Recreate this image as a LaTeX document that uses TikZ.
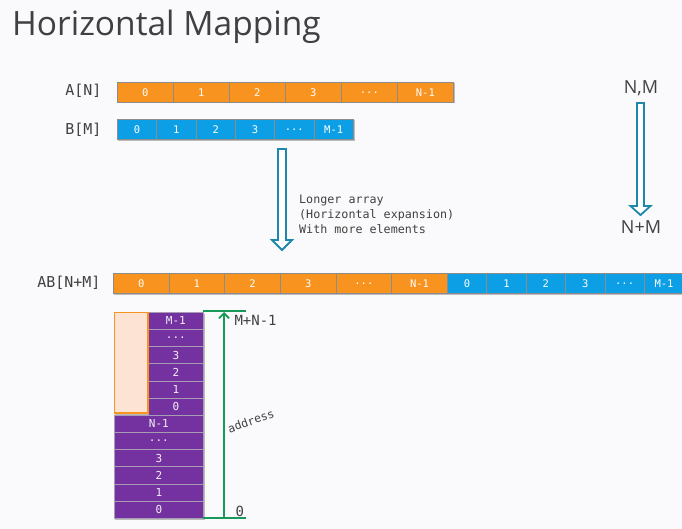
\documentclass[tikz,border=0pt]{standalone}
\usepackage{fontspec}
\setmainfont{Open Sans}
\setmonofont{DejaVu Sans Mono}
\usetikzlibrary{arrows.meta,shadows}

\definecolor{bg}{HTML}{FAFAFC}
\definecolor{orng}{HTML}{F7931E}
\definecolor{blu}{HTML}{0D9FE6}
\definecolor{purp}{HTML}{7332A0}
\definecolor{tealline}{HTML}{1E87AC}
\definecolor{grn}{HTML}{17995A}
\definecolor{peach}{HTML}{FDE3D4}
\definecolor{txt}{HTML}{404040}
\definecolor{cellline}{HTML}{8C8C8C}
\definecolor{purpline}{HTML}{A89CB4}

\newcommand\dotsx{.\kern0pt.\kern0pt.}

\tikzset{
  arrcell/.style={draw=cellline, line width=0.7pt, minimum height=20pt,
    inner sep=0pt, anchor=north west, text=white,
    font=\fontsize{10.5}{10.5}\ttfamily},
  ocell/.style={arrcell, fill=orng},
  bcell/.style={arrcell, fill=blu},
  pcell/.style={draw=purpline, line width=0.7pt, fill=purp, inner sep=0pt,
    minimum height=17.17pt, anchor=north west, text=white!92!purp,
    font=\fontsize{11}{11}\ttfamily},
  rowlabel/.style={text=txt, font=\fontsize{15}{15}\ttfamily, anchor=east},
  sidelabel/.style={text=txt, font=\fontsize{18}{18}\selectfont},
  blockarrow/.style={draw=tealline, line width=1.8pt, fill=white, line join=miter},
  axis/.style={draw=grn, line width=1.8pt},
  axislabel/.style={text=txt, font=\fontsize{14}{14}\ttfamily, anchor=west},
}

\begin{document}
\begin{tikzpicture}[x=1pt,y=-1pt]
  \fill[bg] (0,0) rectangle (682,529);
  \useasboundingbox (0,0) rectangle (682,529);

  % title
  \node[anchor=base west, inner sep=0pt, text=txt,
        font=\fontsize{33.5}{33.5}\selectfont] (title) at (12,36) {Horizontal Mapping};

  % A[N]
  \node[rowlabel] (alab) at (105,91) {A[N]};
  \fill[black, opacity=0.25] (118,83.5) rectangle (454.5,103.5);
  \foreach \t [count=\i from 0] in {0,1,2,3,\dotsx,N-1}
    \node[ocell, minimum width=56pt] (a\i) at ({117+56*\i},82) {\t};

  % B[M]
  \node[rowlabel] (blab) at (105,130) {B[M]};
  \fill[black, opacity=0.25] (118,120.5) rectangle (354.5,141.5);
  \foreach \t [count=\i from 0] in {0,1,2,3,\dotsx,M-1}
    \node[bcell, minimum width=39.33pt] (b\i) at ({117+39.33*\i},119) {\t};

  % expansion arrow and its note
  \draw[blockarrow] (278,149) -- (286,149) -- (286,240) -- (292,240)
    -- (282,250) -- (272,240) -- (278,240) -- cycle;
  \node[anchor=west, align=left, inner sep=0pt, text=txt,
        font=\fontsize{11.7}{15}\ttfamily] (note) at (299,214)
    {Longer array\\(Horizontal expansion)\\With more elements};

  % sizes
  \node[sidelabel] (nm) at (641,88) {N,M};
  \node[sidelabel] (npm) at (641,227) {N+M};
  \draw[blockarrow] (637,103) -- (644,103) -- (644,206) -- (650.5,206)
    -- (640.5,215) -- (630.5,206) -- (637,206) -- cycle;

  % AB[N+M]
  \node[rowlabel] (ablab) at (104,283) {AB[N+M]};
  \fill[black, opacity=0.25] (114,274.5) rectangle (690,294.5);
  \foreach \t [count=\i from 0] in {0,1,2,3,\dotsx,N-1}
    \node[ocell, minimum width=55.67pt] (ab\i) at ({113+55.67*\i},273) {\t};
  \foreach \t [count=\i from 0] in {0,1,2,3,\dotsx,M-1}
    \node[bcell, minimum width=39.4pt] (abm\i) at ({447+39.4*\i},273) {\t};

  % memory column: N elements of A at the bottom, M elements of B above
  \fill[black, opacity=0.25] (115,313.5) rectangle (204.5,519.5);
  \foreach \t [count=\i from 0] in {0,1,2,3,\dotsx,N-1}
    \node[pcell, minimum width=89pt] (ma\i) at (114,{500.83-17.17*\i}) {\t};
  \foreach \t [count=\i from 0] in {0,1,2,3,\dotsx,M-1}
    \node[pcell, minimum width=55pt] (mb\i) at (148,{397.8-17.17*\i}) {\t};
  \draw[orng, line width=1.8pt, fill=peach] (114.5,312.5) rectangle (148,413);

  % address axis
  \coordinate (atop) at (224,311);
  \coordinate (abot) at (224,518);
  \coordinate (tl) at (203,311);
  \coordinate (tr) at (246,311);
  \coordinate (bl) at (203,518);
  \coordinate (br) at (246,518);
  \draw[axis] (tl) -- (tr);
  \draw[axis] (bl) -- (br);
  \draw[axis, -{Straight Barb[length=5pt,width=10pt,line width=1.8pt]}]
    (abot) -- ([yshift=-1pt]atop);
  \node[axislabel] (hi) at (231,320) {M+N-1};
  \node[axislabel] (lo) at (232,511) {0};
  \node[text=txt, font=\fontsize{11.5}{11.5}\ttfamily, rotate=20, inner sep=1pt]
    (addr) at (251,421) {address};
\end{tikzpicture}
\end{document}
